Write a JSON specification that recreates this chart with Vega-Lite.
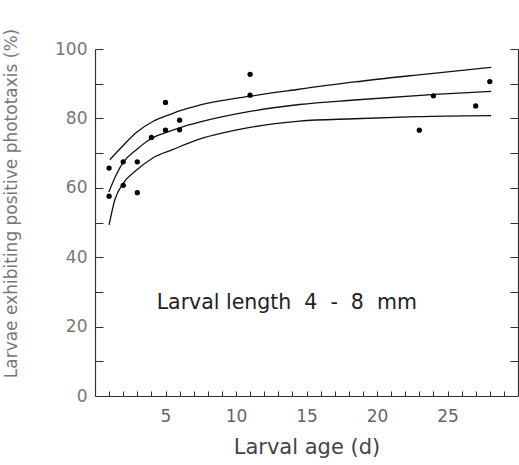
{
  "$schema": "https://vega.github.io/schema/vega-lite/v6.json",
  "width": 423,
  "height": 347,
  "autosize": "none",
  "padding": {"left": 95, "top": 49, "right": 1, "bottom": 69},
  "config": {
    "view": {"stroke": null},
    "axis": {
      "grid": false,
      "domainColor": "#333",
      "domainWidth": 1.2,
      "tickColor": "#333",
      "tickWidth": 1,
      "labelFont": "DejaVu Sans",
      "titleFont": "DejaVu Sans",
      "labelFontSize": 17,
      "labelColor": "#777",
      "titleFontSize": 21,
      "titleFontWeight": "normal"
    }
  },
  "datasets": {
    "pts": [
      {"x": 1, "y": 65.7}, {"x": 1, "y": 57.6}, {"x": 2, "y": 60.7}, {"x": 2, "y": 67.5},
      {"x": 3, "y": 58.6}, {"x": 3, "y": 67.5}, {"x": 4, "y": 74.5}, {"x": 5, "y": 84.6},
      {"x": 5, "y": 76.6}, {"x": 6, "y": 79.5}, {"x": 6, "y": 76.7}, {"x": 11, "y": 92.7},
      {"x": 11, "y": 86.7}, {"x": 23, "y": 76.6}, {"x": 24, "y": 86.5}, {"x": 27, "y": 83.6},
      {"x": 28, "y": 90.6}
    ],
    "curves": [
      {"s": "upper", "x": 1.05, "y": 68.1}, {"s": "upper", "x": 2.0, "y": 72.2}, {"s": "upper", "x": 2.95, "y": 76.0},
      {"s": "upper", "x": 4.1, "y": 79.1}, {"s": "upper", "x": 5.5, "y": 81.4}, {"s": "upper", "x": 6.1, "y": 82.3},
      {"s": "upper", "x": 7.4, "y": 83.8}, {"s": "upper", "x": 11, "y": 86.4}, {"s": "upper", "x": 14.5, "y": 88.4},
      {"s": "upper", "x": 18.4, "y": 90.5}, {"s": "upper", "x": 22.8, "y": 92.5}, {"s": "upper", "x": 28.1, "y": 94.7},
      {"s": "mid", "x": 0.98, "y": 58.8}, {"s": "mid", "x": 1.5, "y": 63.7}, {"s": "mid", "x": 2.0, "y": 67.3},
      {"s": "mid", "x": 3.0, "y": 71.2}, {"s": "mid", "x": 4.0, "y": 74.2}, {"s": "mid", "x": 5.07, "y": 76.0},
      {"s": "mid", "x": 6.0, "y": 77.3}, {"s": "mid", "x": 7.4, "y": 78.9}, {"s": "mid", "x": 11, "y": 82.0},
      {"s": "mid", "x": 14.5, "y": 84.0}, {"s": "mid", "x": 18.4, "y": 85.3}, {"s": "mid", "x": 24.1, "y": 86.9},
      {"s": "mid", "x": 28.1, "y": 87.8},
      {"s": "lower", "x": 1.0, "y": 49.3}, {"s": "lower", "x": 1.4, "y": 56.5}, {"s": "lower", "x": 2.0, "y": 61.3},
      {"s": "lower", "x": 2.95, "y": 65.1}, {"s": "lower", "x": 4.1, "y": 68.6}, {"s": "lower", "x": 5.5, "y": 71.0},
      {"s": "lower", "x": 7.4, "y": 74.0}, {"s": "lower", "x": 11, "y": 77.4}, {"s": "lower", "x": 14.5, "y": 79.2},
      {"s": "lower", "x": 18.4, "y": 79.9}, {"s": "lower", "x": 22.8, "y": 80.5}, {"s": "lower", "x": 28.1, "y": 80.8}
    ],
    "note": [{"x": 13.6, "y": 26.8, "label": "Larval length\u00a0 4 \u00a0-\u00a0 8\u00a0 mm"}]
  },
  "layer": [
    {
      "data": {"name": "curves"},
      "mark": {"type": "line", "interpolate": "monotone", "color": "#111", "strokeWidth": 1.3},
      "encoding": {
        "x": {
          "field": "x", "type": "quantitative",
          "scale": {"domain": [0, 30], "nice": false, "zero": false},
          "axis": {
            "title": "Larval age (d)",
            "titleColor": "#444",
            "titleY": 51,
            "titleBaseline": "middle",
            "values": [1,2,3,4,5,6,7,8,9,10,11,12,13,14,15,16,17,18,19,20,21,22,23,24,25,26,27,28,29],
            "tickSize": -5,
            "labelExpr": "datum.value % 5 === 0 ? datum.label : ''",
            "labelOverlap": false,
            "labelBound": false,
            "labelFlush": false,
            "labelPadding": 17,
            "labelColor": "#666"
          }
        },
        "y": {
          "field": "y", "type": "quantitative",
          "scale": {"domain": [0, 100], "nice": false},
          "axis": {
            "title": "Larvae exhibiting positive phototaxis (%)",
            "titleColor": "#777",
            "titleFontSize": 17,
            "titleX": -84,
            "titleY": 154,
            "titleBaseline": "middle",
            "titleAlign": "center",
            "values": [0,10,20,30,40,50,60,70,80,90,100],
            "tickSize": -8,
            "labelExpr": "datum.value % 20 === 0 ? datum.label : ''",
            "labelOverlap": false,
            "labelBound": false,
            "labelFlush": false,
            "labelPadding": 16
          }
        },
        "detail": {"field": "s"}
      }
    },
    {
      "data": {"name": "pts"},
      "mark": {"type": "circle", "size": 28, "color": "#000", "opacity": 1},
      "encoding": {
        "x": {"field": "x", "type": "quantitative", "axis": null},
        "y": {
          "field": "y", "type": "quantitative",
          "axis": {
            "orient": "right",
            "title": null,
            "labels": false,
            "values": [10,20,30,40,50,60,70,80,90,100],
            "tickSize": -8
          }
        }
      }
    },
    {
      "data": {"name": "note"},
      "mark": {"type": "text", "font": "DejaVu Sans", "fontSize": 20.5, "color": "#222", "align": "center", "baseline": "middle"},
      "encoding": {
        "x": {"field": "x", "type": "quantitative", "axis": null},
        "y": {"field": "y", "type": "quantitative", "axis": null},
        "text": {"field": "label"}
      }
    }
  ],
  "resolve": {"axis": {"x": "independent", "y": "independent"}}
}
